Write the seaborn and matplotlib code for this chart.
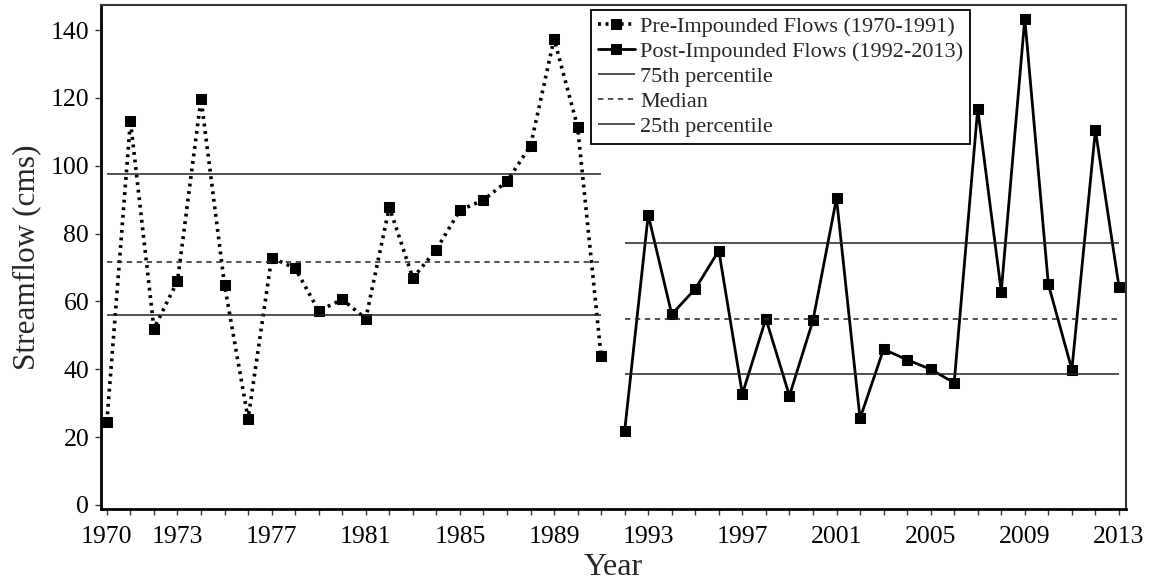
import numpy as np
import pandas as pd
import matplotlib
matplotlib.use("Agg")
import matplotlib.pyplot as plt
from matplotlib.ticker import MultipleLocator, FixedLocator
import seaborn as sns

pre_years = list(range(1970, 1992))
pre_flow = [24.5, 113.3, 52.0, 66.0, 119.8, 64.8, 25.4, 72.9, 69.8, 57.2, 60.6, 54.9,
            87.8, 66.9, 75.3, 86.9, 89.9, 95.4, 105.9, 137.4, 111.5, 43.8]
post_years = list(range(1992, 2014))
post_flow = [21.9, 85.5, 56.2, 63.7, 75.0, 32.7, 54.9, 32.2, 54.4, 90.4, 25.5, 45.9,
             42.8, 40.0, 36.0, 116.8, 62.9, 143.4, 65.1, 39.9, 110.5, 64.4]

pre_stats = {"p75": 97.7, "median": 71.6, "p25": 56.0}
post_stats = {"p75": 77.3, "median": 54.9, "p25": 38.5}

xtick_labels = [1970, 1973, 1977, 1981, 1985, 1989, 1993, 1997, 2001, 2005, 2009, 2013]
ytick_values = [0, 20, 40, 60, 80, 100, 120, 140]

pre_df = pd.DataFrame({"Year": pre_years, "Flow": pre_flow})
post_df = pd.DataFrame({"Year": post_years, "Flow": post_flow})

sns.set_style("ticks")
plt.rcParams["font.family"] = ["Liberation Serif", "DejaVu Serif"]

fig = plt.figure(figsize=(11.57, 5.87), dpi=100)
ax = fig.add_axes([101 / 1157, 1 - 509 / 587, 1025 / 1157, 504 / 587])

sns.lineplot(data=pre_df, x="Year", y="Flow", ax=ax, color="black", linewidth=2.6,
             linestyle=(0, (0.8, 1.3)), marker="s", markersize=7, markeredgecolor="black",
             label="Pre-Impounded Flows (1970-1991)")
sns.lineplot(data=post_df, x="Year", y="Flow", ax=ax, color="black", linewidth=2.0,
             linestyle="-", marker="s", markersize=7, markeredgecolor="black",
             label="Post-Impounded Flows (1992-2013)")

lc = "#222222"
ax.hlines(pre_stats["p75"], pre_years[0], pre_years[-1], colors=lc, linewidth=1.1,
          label="75th percentile")
ax.hlines(post_stats["p75"], post_years[0], post_years[-1], colors=lc, linewidth=1.1)
ax.hlines(pre_stats["median"], pre_years[0], pre_years[-1], colors=lc, linewidth=1.1,
          linestyles=(0, (3.5, 3)), label="Median")
ax.hlines(post_stats["median"], post_years[0], post_years[-1], colors=lc, linewidth=1.1,
          linestyles=(0, (3.5, 3)))
ax.hlines(pre_stats["p25"], pre_years[0], pre_years[-1], colors=lc, linewidth=1.1,
          label="25th percentile")
ax.hlines(post_stats["p25"], post_years[0], post_years[-1], colors=lc, linewidth=1.1)

ax.set_xlim(1969.75, 2013.3)
ax.set_ylim(-1.2, 147.4)
ax.xaxis.set_major_locator(FixedLocator(xtick_labels))
ax.xaxis.set_minor_locator(MultipleLocator(1))
ax.set_yticks(ytick_values)
ax.tick_params(axis="both", which="both", direction="out", length=4.5, width=1,
               color="#333333", labelsize=18.5, labelcolor="black")
ax.tick_params(axis="x", which="both", pad=8)
ax.tick_params(axis="y", which="both", pad=4)
ax.set_xlabel("Year", fontsize=23, labelpad=3)
ax.set_ylabel("Streamflow (cms)", fontsize=22.5, labelpad=7)

for side in ["left", "bottom"]:
    ax.spines[side].set_linewidth(2.0)
    ax.spines[side].set_color("black")
for side in ["top", "right"]:
    ax.spines[side].set_visible(True)
    ax.spines[side].set_linewidth(1.5)
    ax.spines[side].set_color("#333333")

leg = ax.legend(loc="upper right", bbox_to_anchor=((970 - 101) / 1025, 1 - 5 / 504),
                borderaxespad=0, fontsize=16, frameon=True, fancybox=False,
                edgecolor="black", handlelength=1.65, handletextpad=0.25,
                labelspacing=0.2, borderpad=0.3)
leg.get_frame().set_linewidth(1.3)
leg.get_frame().set_alpha(1)

fig.savefig("out.png", dpi=100)
